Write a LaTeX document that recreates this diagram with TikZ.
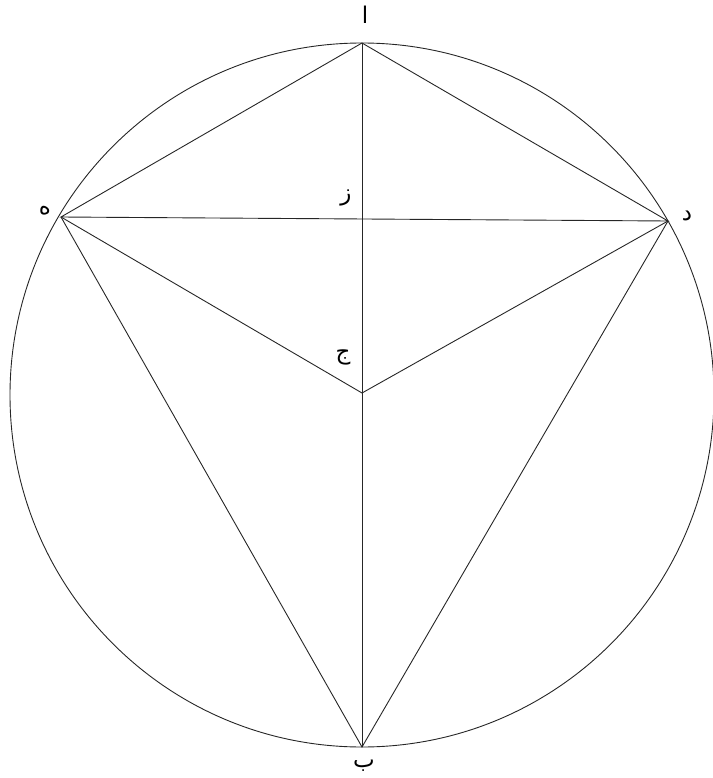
\documentclass[tikz,border=0pt]{standalone}
\usepackage{fontspec}
\newfontfamily\arabicfont[Script=Arabic]{DejaVu Sans}
\TeXXeTstate=1
\begin{document}
\begin{tikzpicture}[x=1pt,y=-1pt,
  edge/.style={line width=0.9pt,black!85},
  lbl/.style={font=\arabicfont\fontsize{23}{26}\selectfont,inner sep=0pt}]
\useasboundingbox (0,0) rectangle (712,778);
\coordinate (O) at (362,395);
\coordinate (A) at (362,43);
\coordinate (B) at (362,747);
\coordinate (D) at (668,221);
\coordinate (E) at (61,217);
\coordinate (Z) at (362,219);
\coordinate (J) at (362,393);
\draw[edge] (O) circle[radius=352];
\draw[edge] (A) -- (D) -- (E) -- cycle;
\draw[edge] (A) -- (B);
\draw[edge] (E) -- (J) -- (D);
\draw[edge] (E) -- (B) -- (D);
\node[lbl] (la) at (365,15) {\beginR ا\endR};
\node[lbl] (lz) at (346,198) {\beginR ز\endR};
\node[lbl] (lj) at (343,357) {\beginR ج\endR};
\node[lbl] (ld) at (687,216) {\beginR د\endR};
\node[lbl] (le) at (45,211) {\beginR ه\endR};
\node[lbl,anchor=base] (lb) at (364,767) {\beginR ب\endR};
\end{tikzpicture}
\end{document}
